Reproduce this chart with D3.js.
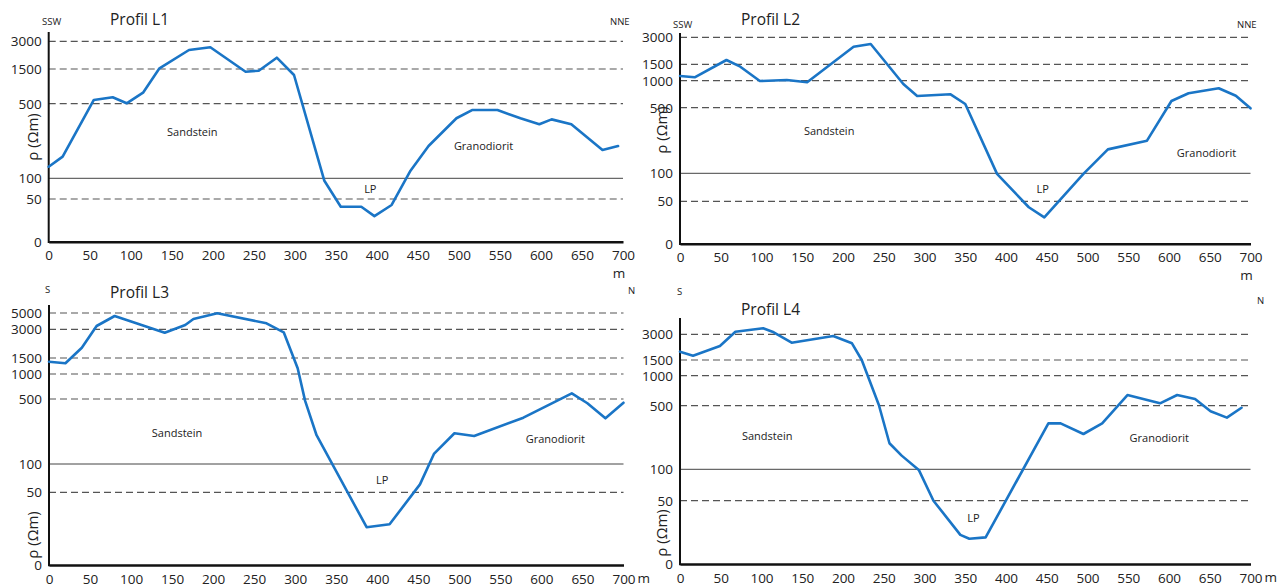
<!DOCTYPE html>
<html>
<head>
<meta charset="utf-8">
<script src="https://cdn.jsdelivr.net/npm/d3@7"></script>
<style>
  html, body { margin: 0; padding: 0; background: #fff; }
  svg { display: block; font-family: "Open Sans", "DejaVu Sans", sans-serif; }
</style>
</head>
<body>
<svg id="chart" width="1286" height="587"></svg>
<script>
// ---------- DATA ----------
const xTicks = [0, 50, 100, 150, 200, 250, 300, 350, 400, 450, 500, 550, 600, 650, 700];

const L1_yTicks = [0, 50, 100, 500, 1500, 3000];
const L2_yTicks = [0, 50, 100, 500, 1000, 1500, 3000];
const L3_yTicks = [0, 50, 100, 500, 1000, 1500, 3000, 5000];
const L4_yTicks = [0, 50, 100, 500, 1000, 1500, 3000];

const L1_dist = [0, 17, 55, 78, 95, 115, 135, 171, 197, 240, 256, 278, 299, 336, 356, 381, 397, 418, 441, 463, 497, 516, 547, 575, 598, 613, 637, 675, 694];
const L1_rho  = [162, 216, 607, 684, 512, 817, 1538, 2529, 2675, 1422, 1451, 2112, 1327, 94, 41, 41, 30, 43, 141, 273, 422, 466, 466, 422, 390, 416, 390, 252, 273];

const L2_dist = [0, 18, 57, 74, 98, 131, 156, 213, 234, 274, 291, 332, 350, 389, 428, 447, 495, 525, 573, 603, 624, 661, 682, 700];
const L2_rho  = [1143, 1104, 1739, 1427, 994, 1021, 970, 2478, 2628, 939, 717, 748, 569, 99, 43, 31, 99, 246, 299, 624, 767, 859, 722, 496];

const L3_dist = [0, 20, 40, 58, 80, 141, 166, 176, 205, 265, 286, 303, 312, 326, 387, 415, 452, 469, 494, 518, 578, 637, 656, 678, 700];
const L3_rho  = [1384, 1334, 2038, 3405, 4632, 2822, 3528, 4264, 4963, 3736, 2843, 1178, 490, 277, 26, 28, 64, 162, 289, 272, 385, 614, 474, 381, 477];

const L4_dist = [0, 16, 49, 68, 102, 115, 137, 188, 211, 223, 244, 257, 272, 293, 311, 344, 355, 375, 452, 467, 495, 518, 549, 589, 610, 632, 651, 671, 689];
const L4_rho  = [1984, 1751, 2317, 3152, 3350, 3117, 2510, 2901, 2475, 1500, 512, 264, 186, 99, 50, 23, 20, 21, 389, 389, 322, 389, 678, 540, 678, 612, 465, 425, 487];

const titles = ["Profil L1", "Profil L2", "Profil L3", "Profil L4"];
const dirStart = ["SSW", "SSW", "S", "S"];
const dirEnd = ["NNE", "NNE", "N", "N"];
const unitLabels = ["Sandstein", "LP", "Granodiorit"];
// label anchor points in data units [distance, rho]
const L1_labelAt = [[175, 348], [392, 74], [530, 273]];
const L2_labelAt = [[183, 358], [445, 72], [646, 224]];
const L3_labelAt = [[156, 291], [406, 72], [617, 254]];
const L4_labelAt = [[107, 309], [360, 36], [588, 297]];

// ---------- LAYOUT ----------
const panels = [
  { dist: L1_dist, rho: L1_rho, yTicks: L1_yTicks, labelAt: L1_labelAt,
    x0: 48.7, x1: 623, yPos: [241.7, 199, 178.3, 103.7, 69, 41.3], top: 32,
    title: [110, 25], ds: [42, 25], de: [610, 25], ylab: [33, 137], unit: "below" },
  { dist: L2_dist, rho: L2_rho, yTicks: L2_yTicks, labelAt: L2_labelAt,
    x0: 680, x1: 1250.5, yPos: [243.7, 201.3, 173.3, 107.7, 80.7, 64.3, 37.3], top: 33,
    title: [741, 25], ds: [673, 28], de: [1237, 28], ylab: [662, 130], unit: "below" },
  { dist: L3_dist, rho: L3_rho, yTicks: L3_yTicks, labelAt: L3_labelAt,
    x0: 49, x1: 623.5, yPos: [565, 492.3, 464, 399, 374, 358, 329.3, 313], top: 305,
    title: [110, 298], ds: [45, 293], de: [628, 294], ylab: [33, 535], unit: "right" },
  { dist: L4_dist, rho: L4_rho, yTicks: L4_yTicks, labelAt: L4_labelAt,
    x0: 680, x1: 1250.5, yPos: [564, 500.7, 469.3, 405.7, 375.7, 360, 334.3], top: 318,
    title: [741, 315], ds: [677, 295], de: [1257, 304], ylab: [662, 533], unit: "right" }
];

const svg = d3.select("#chart");
const lineColor = "#1a75c6";

panels.forEach((p, i) => {
  const g = svg.append("g");
  const x = d3.scaleLinear().domain([0, 700]).range([p.x0, p.x1]);
  const y = d3.scaleLinear().domain(p.yTicks).range(p.yPos);
  const y0 = y(0);

  // gridlines
  g.selectAll("line.grid").data(p.yTicks.filter(t => t > 0)).enter().append("line")
    .attr("class", "grid")
    .attr("x1", p.x0).attr("x2", p.x1)
    .attr("y1", d => y(d)).attr("y2", d => y(d))
    .attr("stroke", d => d === 100 ? "#444" : "#555")
    .attr("stroke-width", d => d === 100 ? 1 : 1.2)
    .attr("stroke-dasharray", d => d === 100 ? null : "7,4");

  // x axis
  const xa = g.append("g").attr("transform", `translate(0,${y0})`)
    .call(d3.axisBottom(x).tickValues(xTicks).tickSize(0).tickSizeOuter(0).tickPadding(9).tickFormat(d3.format("d")));
  xa.select(".domain").attr("stroke", "#111").attr("stroke-width", 2.6);
  xa.selectAll("text").attr("font-size", 13.5).attr("fill", "#222")
    .attr("font-family", "'Open Sans', sans-serif");

  // y axis
  const ya = g.append("g").attr("transform", `translate(${p.x0},0)`)
    .call(d3.axisLeft(y).tickValues(p.yTicks).tickSize(0).tickPadding(7).tickFormat(d3.format("d")));
  ya.select(".domain").remove();
  ya.selectAll("text").attr("font-size", 13.5).attr("fill", "#222")
    .attr("font-family", "'Open Sans', sans-serif");
  g.append("line").attr("x1", p.x0).attr("x2", p.x0).attr("y1", p.top).attr("y2", y0 + 1.3)
    .attr("stroke", "#111").attr("stroke-width", 2);

  // y label
  g.append("text").attr("transform", `translate(${p.ylab[0]},${p.ylab[1]}) rotate(-90)`)
    .attr("text-anchor", "middle").attr("dy", "0.35em")
    .attr("font-size", 15).attr("fill", "#222").text("ρ (Ωm)");

  // unit "m"
  if (p.unit === "below") {
    g.append("text").attr("x", x(700) - 4).attr("y", y0 + 36).attr("text-anchor", "middle")
      .attr("font-size", 13.5).attr("fill", "#222").text("m");
  } else {
    g.append("text").attr("x", x(700) + 14).attr("y", y0 + 18).attr("text-anchor", "start")
      .attr("font-size", 13.5).attr("fill", "#222").text("m");
  }

  // title & directions
  g.append("text").attr("x", p.title[0]).attr("y", p.title[1]).attr("font-size", 15.5)
    .attr("fill", "#222").text(titles[i]);
  g.append("text").attr("x", p.ds[0]).attr("y", p.ds[1]).attr("font-size", 9.5)
    .attr("fill", "#222").text(dirStart[i]);
  g.append("text").attr("x", p.de[0]).attr("y", p.de[1]).attr("font-size", 9.5)
    .attr("fill", "#222").text(dirEnd[i]);

  // unit labels
  g.selectAll("text.unit").data(p.labelAt).enter().append("text")
    .attr("class", "unit")
    .attr("x", d => x(d[0])).attr("y", d => y(d[1]))
    .attr("dy", "0.35em").attr("text-anchor", "middle")
    .attr("font-size", 11).attr("fill", "#222")
    .text((d, j) => unitLabels[j]);

  // profile line
  const pts = p.dist.map((d, j) => [d, p.rho[j]]);
  g.append("path").datum(pts)
    .attr("fill", "none").attr("stroke", lineColor).attr("stroke-width", 2.6)
    .attr("stroke-linejoin", "round").attr("stroke-linecap", "round")
    .attr("d", d3.line().x(d => x(d[0])).y(d => y(d[1])));
});
</script>
</body>
</html>
